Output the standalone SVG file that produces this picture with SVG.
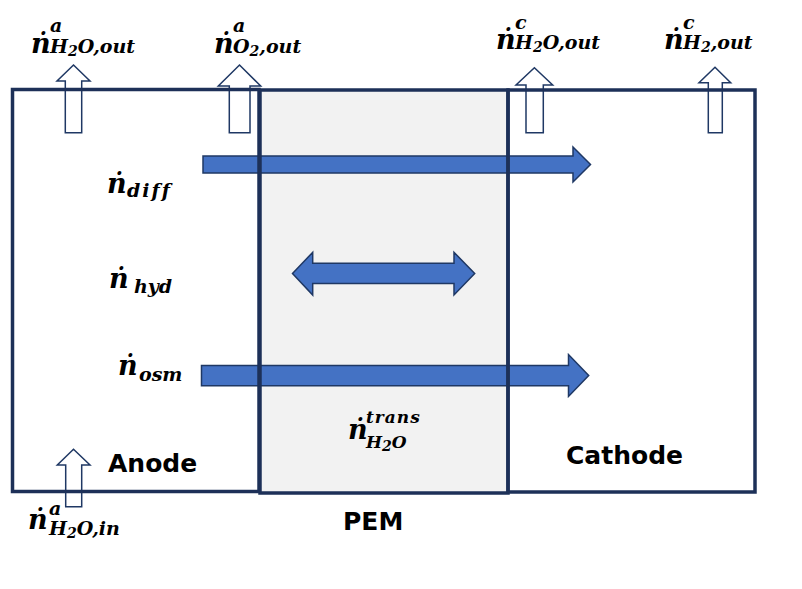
<svg xmlns="http://www.w3.org/2000/svg" width="802" height="589" viewBox="0 0 802 589">
<style>
.box{fill:none;stroke:#1d3058;stroke-width:3.5}
.up{fill:#ffffff;stroke:#1f3864;stroke-width:1.5;stroke-linejoin:miter}
.flow{fill:#4472c4;stroke:#1f3864;stroke-width:1.5;stroke-linejoin:miter}
.m{font-family:"DejaVu Serif","Liberation Serif",serif;font-weight:bold;font-style:italic;font-size:27px;fill:#000}
.s{font-family:"DejaVu Serif","Liberation Serif",serif;font-weight:bold;font-style:italic;font-size:19px;fill:#000}
.t{font-size:17px}
.ss{font-size:14px}
.lbl{font-family:"DejaVu Sans","Liberation Sans",sans-serif;font-weight:bold;font-size:25px;fill:#000}
</style>
<rect width="802" height="589" fill="#ffffff"/>
<rect id="pem-fill" x="260" y="90" width="248" height="403" fill="#f2f2f2"/>

<g id="connectors">
  <polygon class="flow" points="203,156 573,156 573,147 590.5,164.5 573,182 573,173 203,173"/>
  <polygon class="flow" points="292.5,273.5 312.7,252.3 312.7,263.3 454,263.3 454,252.3 474.7,273.5 454,295 454,283.5 312.7,283.5 312.7,295"/>
  <polygon class="flow" points="201.5,365.5 568.5,365.5 568.5,354.5 588.7,375.5 568.5,396.5 568.5,385.7 201.5,385.7"/>
  <polygon class="up" points="73.5,65 90,81 81.7,81 81.7,132.7 65.3,132.7 65.3,81 57,81"/>
  <polygon class="up" points="239.5,65 260.7,86 250,86 250,132.7 229.3,132.7 229.3,86 218.3,86"/>
  <polygon class="up" points="534.4,67.7 552.7,85 543.3,85 543.3,132.7 526,132.7 526,85 516,85"/>
  <polygon class="up" points="715,67.3 730.7,82.7 722.3,82.7 722.3,132.7 708.3,132.7 708.3,82.7 699,82.7"/>
  <polygon class="up" points="73.5,449.3 90,465 81.7,465 81.7,506.7 65.7,506.7 65.7,465 57.3,465"/>
</g>

<g id="anode">
  <rect class="box" x="12.5" y="89.5" width="246.5" height="402"/>
  <text class="lbl" x="108" y="472">Anode</text>
</g>
<g id="pem">
  <rect class="box" x="260" y="90" width="248" height="403"/>
  <text class="lbl" x="343" y="530">PEM</text>
</g>
<g id="cathode">
  <rect class="box" x="508" y="90" width="247" height="402"/>
  <text class="lbl" x="566" y="464">Cathode</text>
</g>

<g id="n-h2o-out-a">
  <text class="m" x="31" y="53">ṅ</text>
  <text class="s" x="50" y="32">a</text>
  <text class="s" x="50" y="53">H<tspan class="ss" dy="3">2</tspan><tspan dy="-3">O,out</tspan></text>
</g>
<g id="n-o2-out-a">
  <text class="m" x="214" y="53">ṅ</text>
  <text class="s" x="233" y="32">a</text>
  <text class="s" x="233" y="53">O<tspan class="ss" dy="3">2</tspan><tspan dy="-3">,out</tspan></text>
</g>
<g id="n-h2o-out-c">
  <text class="m" x="496" y="49">ṅ</text>
  <text class="s" x="515" y="28.5">c</text>
  <text class="s" x="515" y="49">H<tspan class="ss" dy="3">2</tspan><tspan dy="-3">O,out</tspan></text>
</g>
<g id="n-h2-out-c">
  <text class="m" x="664" y="49">ṅ</text>
  <text class="s" x="683" y="28.5">c</text>
  <text class="s" x="683" y="49">H<tspan class="ss" dy="3">2</tspan><tspan dy="-3">,out</tspan></text>
</g>
<g id="n-diff">
  <text class="m" x="107" y="193">ṅ</text>
  <text class="s" x="127" y="197" letter-spacing="2">diff</text>
</g>
<g id="n-hyd">
  <text class="m" x="109" y="288">ṅ</text>
  <text class="s" x="134" y="293">hyd</text>
</g>
<g id="n-osm">
  <text class="m" x="118" y="375">ṅ</text>
  <text class="s" x="139" y="381">osm</text>
</g>
<g id="n-trans">
  <text class="m" x="348" y="439" font-size="25">ṅ</text>
  <text class="s t" x="366" y="423" letter-spacing="1">trans</text>
  <text class="s t" x="366" y="448">H<tspan class="ss" font-size="12" dy="3">2</tspan><tspan dy="-3">O</tspan></text>
</g>
<g id="n-h2o-in-a">
  <text class="m" x="28" y="529">ṅ</text>
  <text class="s" x="49" y="515">a</text>
  <text class="s" x="49" y="535">H<tspan class="ss" dy="3">2</tspan><tspan dy="-3">O,in</tspan></text>
</g>
</svg>
